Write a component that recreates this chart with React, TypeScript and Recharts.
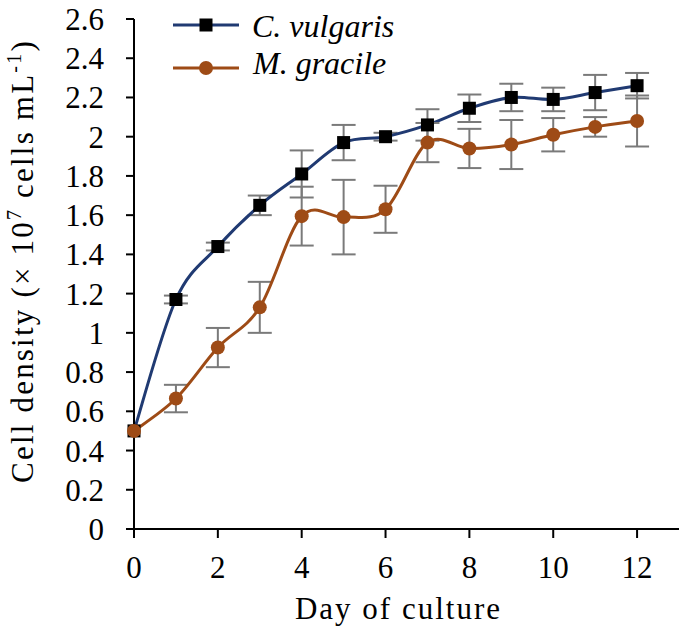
import React from "react";
import { LineChart, Line, XAxis, YAxis, ErrorBar, Legend, Label } from "recharts";

const days = [0, 1, 2, 3, 4, 5, 6, 7, 8, 9, 10, 11, 12];
const cVulgaris = [0.5, 1.17, 1.44, 1.65, 1.81, 1.97, 2.0, 2.06, 2.145, 2.2, 2.19, 2.225, 2.26];
const cVulgarisSd = [0, 0.02, 0.02, 0.05, 0.12, 0.09, 0.02, 0.08, 0.07, 0.07, 0.06, 0.09, 0.065];
const mGracile = [0.5, 0.665, 0.925, 1.13, 1.595, 1.59, 1.63, 1.97, 1.94, 1.96, 2.01, 2.05, 2.08];
const mGracileSd = [0, 0.07, 0.1, 0.13, 0.15, 0.19, 0.12, 0.1, 0.1, 0.125, 0.085, 0.05, 0.13];
const xTicks = [0, 2, 4, 6, 8, 10, 12];
const yTicks = [0, 0.2, 0.4, 0.6, 0.8, 1, 1.2, 1.4, 1.6, 1.8, 2, 2.2, 2.4, 2.6];

const data = days.map((d, i) => ({
  day: d,
  c: cVulgaris[i],
  cErr: cVulgarisSd[i],
  m: mGracile[i],
  mErr: mGracileSd[i],
}));

const FONT = '"Liberation Serif", "Times New Roman", serif';
const NAVY = "#203a72";
const RUST = "#9e4b16";
const ERR = "#7a7a7a";

// excel-ish smoothed line (catmull-rom through the points)
const excelSmooth = (context: any) => {
  let pts: number[][] = [];
  return {
    areaStart() {},
    areaEnd() {},
    lineStart() {
      pts = [];
    },
    point(x: number, y: number) {
      pts.push([+x, +y]);
    },
    lineEnd() {
      const n = pts.length;
      if (!n) return;
      context.moveTo(pts[0][0], pts[0][1]);
      for (let i = 0; i < n - 1; i++) {
        const p0 = pts[Math.max(i - 1, 0)];
        const p1 = pts[i];
        const p2 = pts[i + 1];
        const p3 = pts[Math.min(i + 2, n - 1)];
        context.bezierCurveTo(
          p1[0] + (p2[0] - p0[0]) / 6,
          p1[1] + (p2[1] - p0[1]) / 6,
          p2[0] - (p3[0] - p1[0]) / 6,
          p2[1] - (p3[1] - p1[1]) / 6,
          p2[0],
          p2[1]
        );
      }
    },
  };
};

const SquareDot = (props: any) => {
  const { cx, cy, index } = props;
  return <rect key={`sq-${index}`} x={cx - 6.5} y={cy - 6.5} width={13} height={13} fill="#000" />;
};

const RoundDot = (props: any) => {
  const { cx, cy, index } = props;
  return <circle key={`ci-${index}`} cx={cx} cy={cy} r={7} fill={RUST} />;
};

const LegendBox = () => (
  <svg width={685} height={90} style={{ display: "block" }}>
    <line x1={173} x2={239} y1={25} y2={25} stroke={NAVY} strokeWidth={3} />
    <rect x={199.5} y={18.5} width={13} height={13} fill="#000" />
    <text x={252} y={37} fontFamily={FONT} fontStyle="italic" fontSize={32} fill="#000">
      C. vulgaris
    </text>
    <line x1={173} x2={239} y1={68} y2={68} stroke={RUST} strokeWidth={3} />
    <circle cx={206} cy={68} r={7} fill={RUST} />
    <text x={253} y={74} fontFamily={FONT} fontStyle="italic" fontSize={32} fill="#000">
      M. gracile
    </text>
  </svg>
);

const YTitle = () => (
  <text
    transform="translate(33, 261) rotate(-90)"
    textAnchor="middle"
    fontFamily={FONT}
    fontSize={31}
    letterSpacing={2.2}
    fill="#000"
  >
    Cell density (× 10
    <tspan dy={-12} fontSize={20}>7</tspan>
    <tspan dy={12}> cells mL</tspan>
    <tspan dy={-12} fontSize={20}>-1</tspan>
    <tspan dy={12}>)</tspan>
  </text>
);

export default function App() {
  return (
    <div style={{ position: "absolute", left: 0, top: 0, background: "#fff" }}>
      <LineChart width={685} height={633} data={data} margin={{ top: 19, right: 6, bottom: 0, left: 0 }}>
        <XAxis
          dataKey="day"
          type="number"
          domain={[0, 13]}
          ticks={xTicks}
          height={104}
          stroke="#000"
          strokeWidth={2}
          tickSize={9}
          tickMargin={18}
          tick={{ fill: "#000", fontSize: 31, fontFamily: FONT }}
        >
          <Label
            value="Day of culture"
            position="insideBottom"
            offset={14}
            dx={-8}
            style={{ fill: "#000", fontSize: 31, fontFamily: FONT, letterSpacing: 2 }}
          />
        </XAxis>
        <YAxis
          type="number"
          domain={[0, 2.6]}
          ticks={yTicks}
          width={134}
          stroke="#000"
          strokeWidth={2}
          tickSize={8}
          tickMargin={22}
          interval={0}
          tickFormatter={(v: number) => String(+v.toFixed(1))}
          tick={{ fill: "#000", fontSize: 31, fontFamily: FONT }}
        >
          <Label content={<YTitle />} />
        </YAxis>
        <Legend
          layout="horizontal"
          verticalAlign="middle"
          align="center"
          wrapperStyle={{ left: 0, top: 0, width: 685 }}
          content={<LegendBox />}
        />
        <Line
          dataKey="c"
          name="C. vulgaris"
          type={excelSmooth as any}
          stroke={NAVY}
          strokeWidth={3}
          dot={SquareDot}
          activeDot={false}
          isAnimationActive={false}
        >
          <ErrorBar dataKey="cErr" direction="y" width={12} stroke={ERR} strokeWidth={2} />
        </Line>
        <Line
          dataKey="m"
          name="M. gracile"
          type={excelSmooth as any}
          stroke={RUST}
          strokeWidth={3}
          dot={RoundDot}
          activeDot={false}
          isAnimationActive={false}
        >
          <ErrorBar dataKey="mErr" direction="y" width={12} stroke={ERR} strokeWidth={2} />
        </Line>
      </LineChart>
    </div>
  );
}
